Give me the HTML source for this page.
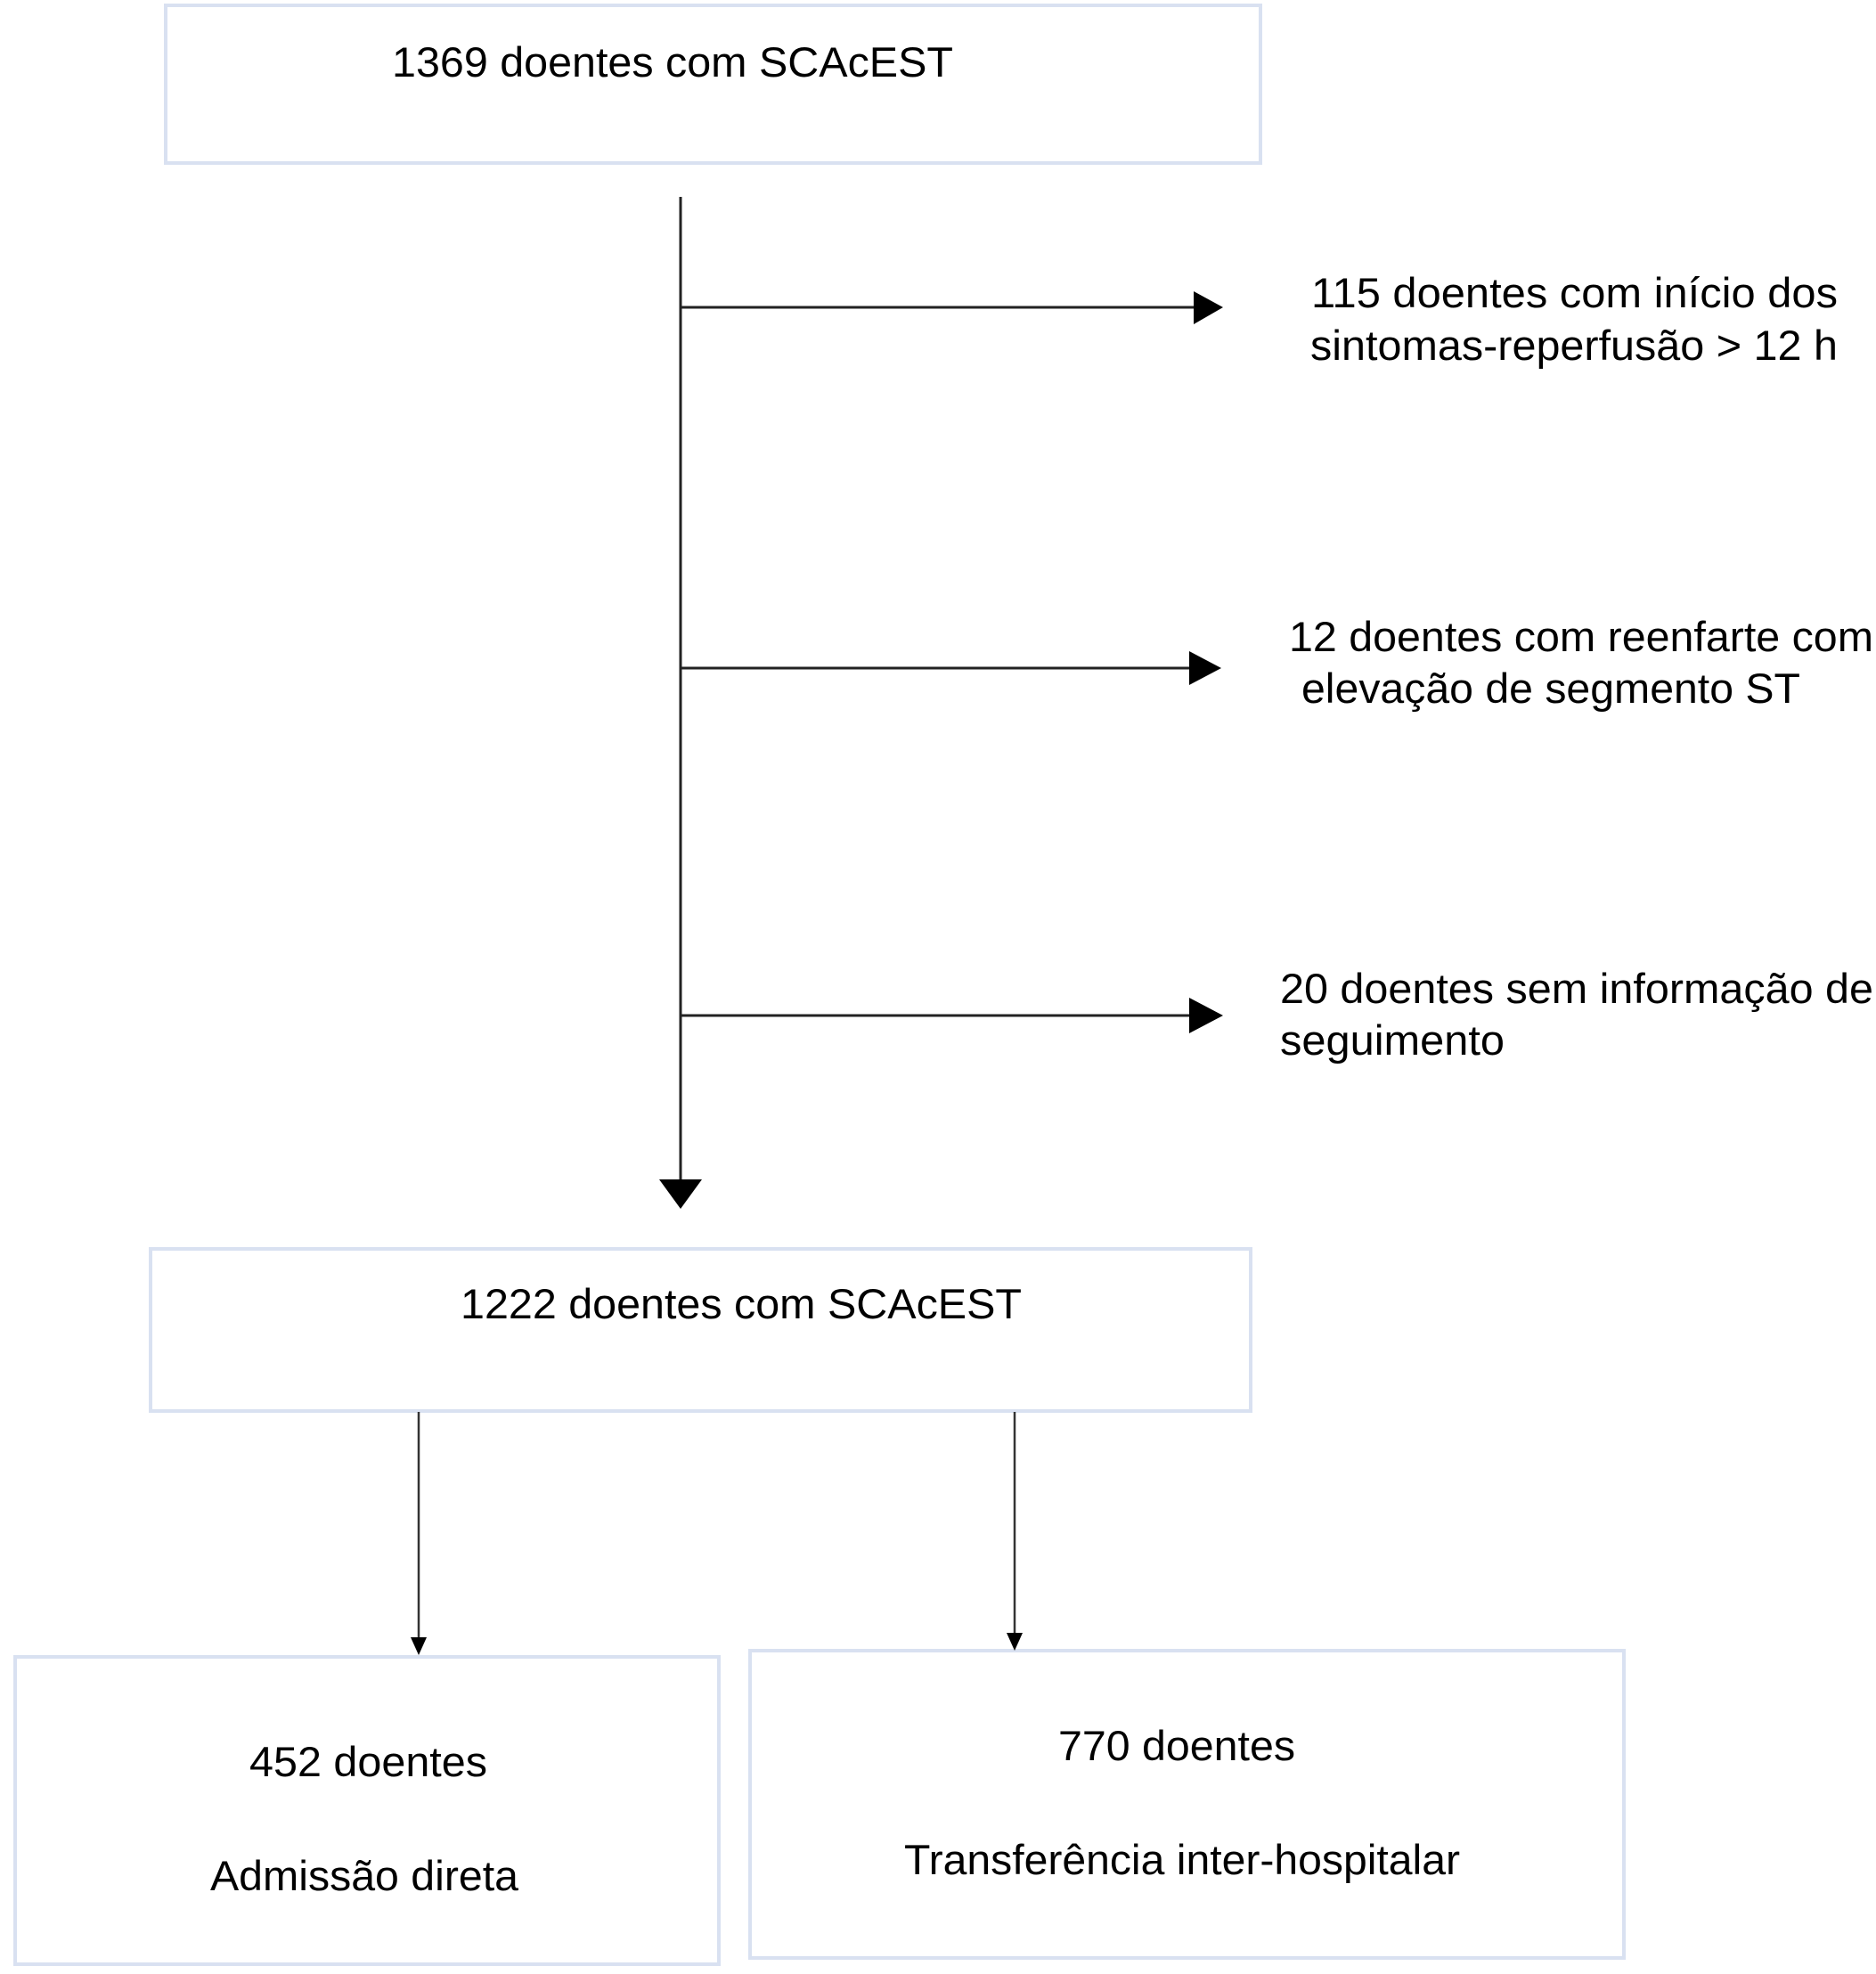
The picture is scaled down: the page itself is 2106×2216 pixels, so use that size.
<!DOCTYPE html>
<html><head><meta charset="utf-8"><style>html,body{margin:0;padding:0;background:#fff}svg{display:block}</style></head>
<body>
<svg width="2106" height="2216" viewBox="0 0 2106 2216" xmlns="http://www.w3.org/2000/svg" font-family="'Liberation Sans', sans-serif" font-size="47" fill="#000">
<g fill="none" stroke="#d9e1f1" stroke-width="4">
<rect x="186" y="6" width="1229" height="177"/>
<rect x="169" y="1402" width="1235" height="182"/>
<rect x="17" y="1860" width="790" height="345"/>
<rect x="842" y="1853" width="981" height="345"/>
</g>
<g stroke="#222" stroke-width="3">
<line x1="764" y1="221" x2="764" y2="1330"/>
<line x1="764" y1="345" x2="1345" y2="345"/>
<line x1="764" y1="750" x2="1340" y2="750"/>
<line x1="764" y1="1140" x2="1340" y2="1140"/>
</g>
<g stroke="#333" stroke-width="2.5">
<line x1="470" y1="1585" x2="470" y2="1845"/>
<line x1="1139" y1="1585" x2="1139" y2="1840"/>
</g>
<g fill="#000">
<polygon points="740,1324 788,1324 764,1357"/>
<polygon points="1340,327 1373,345 1340,364"/>
<polygon points="1335,731 1371,750 1335,769"/>
<polygon points="1335,1120 1373,1140 1335,1160"/>
<polygon points="461,1838 479,1838 470,1858"/>
<polygon points="1130,1833 1148,1833 1139,1853"/>
</g>
<g lengthAdjust="spacingAndGlyphs">
<text x="440" y="86" textLength="630" lengthAdjust="spacingAndGlyphs">1369 doentes com SCAcEST</text>
<text x="1472" y="345" textLength="591" lengthAdjust="spacingAndGlyphs">115 doentes com início dos</text>
<text x="1471" y="404" textLength="592" lengthAdjust="spacingAndGlyphs">sintomas-reperfusão &gt; 12 h</text>
<text x="1447" y="731" textLength="656" lengthAdjust="spacingAndGlyphs">12 doentes com reenfarte com</text>
<text x="1461" y="789" textLength="560" lengthAdjust="spacingAndGlyphs">elevação de segmento ST</text>
<text x="1437" y="1126" textLength="666" lengthAdjust="spacingAndGlyphs">20 doentes sem informação de</text>
<text x="1437" y="1184" textLength="252" lengthAdjust="spacingAndGlyphs">seguimento</text>
<text x="517" y="1480" textLength="630" lengthAdjust="spacingAndGlyphs">1222 doentes com SCAcEST</text>
<text x="280" y="1994" textLength="267" lengthAdjust="spacingAndGlyphs">452 doentes</text>
<text x="236" y="2122" textLength="346" lengthAdjust="spacingAndGlyphs">Admissão direta</text>
<text x="1188" y="1976" textLength="266" lengthAdjust="spacingAndGlyphs">770 doentes</text>
<text x="1015" y="2104" textLength="624" lengthAdjust="spacingAndGlyphs">Transferência inter-hospitalar</text>
</g>
</svg>
</body></html>
